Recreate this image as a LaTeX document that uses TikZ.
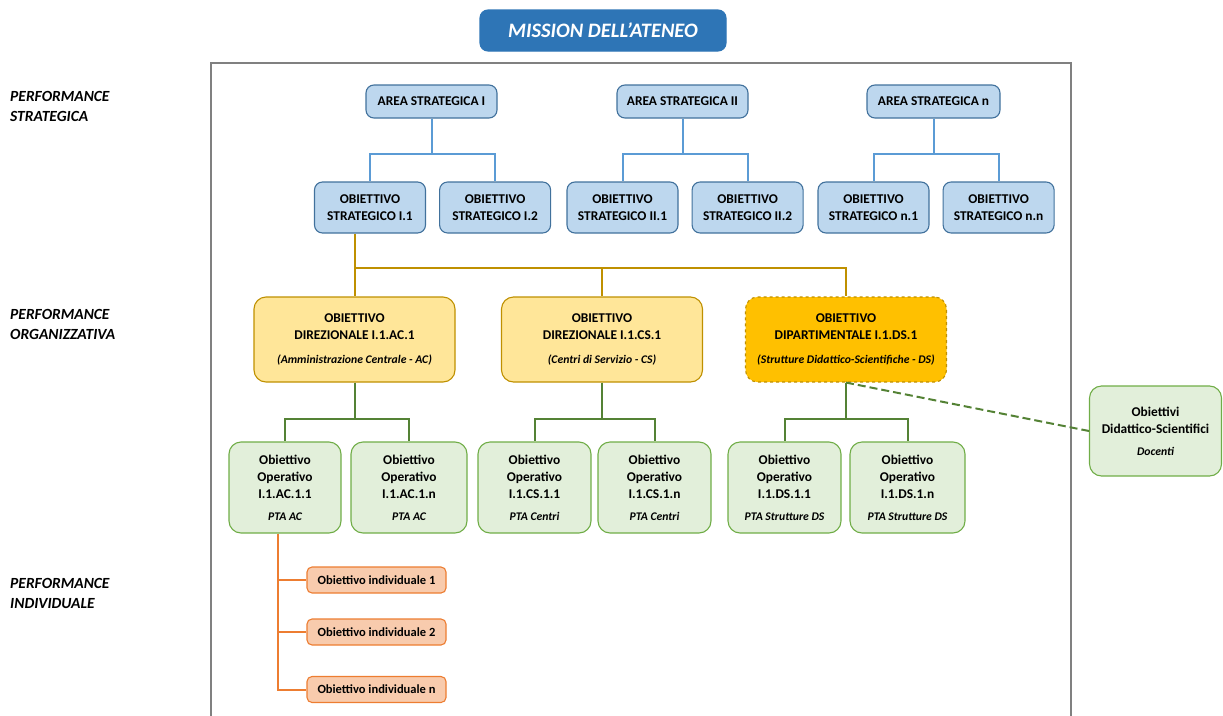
\documentclass[tikz,border=0pt]{standalone}
\usepackage{fontspec}
\setmainfont{Carlito}
\usetikzlibrary{positioning}

\definecolor{missionBlue}{HTML}{2E75B6}
\definecolor{stratFill}{HTML}{BDD7EE}
\definecolor{stratDraw}{HTML}{41719C}
\definecolor{stratLine}{HTML}{5B9BD5}
\definecolor{dirFill}{HTML}{FFE699}
\definecolor{dirDraw}{HTML}{BF9000}
\definecolor{dsFill}{HTML}{FFC000}
\definecolor{opFill}{HTML}{E2EFDA}
\definecolor{opDraw}{HTML}{70AD47}
\definecolor{opLine}{HTML}{548235}
\definecolor{indFill}{HTML}{F8CBAD}
\definecolor{indDraw}{HTML}{ED7D31}

\newcommand{\subtext}[1]{{\fontsize{11.7}{13}\selectfont\bfseries\itshape #1}}

\begin{document}
\begin{tikzpicture}[x=1pt, y=-1pt, node distance=13pt,
    box/.style={draw, rounded corners=8pt, align=center, inner sep=2pt, line width=1.1pt,
      font=\fontsize{13.4}{17}\selectfont\bfseries},
    mission/.style={box, fill=missionBlue, draw=missionBlue, text=white, minimum width=246pt, minimum height=41pt,
      font=\fontsize{20.5}{22}\selectfont\bfseries\itshape},
    area/.style={box, fill=stratFill, draw=stratDraw, minimum width=131pt, minimum height=33pt},
    strategic/.style={box, fill=stratFill, draw=stratDraw, minimum width=111pt, minimum height=51pt},
    directional/.style={box, fill=dirFill, draw=dirDraw, rounded corners=12pt, minimum width=201pt, minimum height=85pt},
    departmental/.style={directional, fill=dsFill, dashed},
    operative/.style={box, fill=opFill, draw=opDraw, rounded corners=12pt, minimum width=113pt, minimum height=91pt},
    individual/.style={box, fill=indFill, draw=indDraw, rounded corners=5pt, minimum width=139pt, minimum height=26pt,
      font=\fontsize{12.5}{14}\selectfont\bfseries},
    perf/.style={align=left, anchor=north west, inner sep=0pt, font=\fontsize{15.5}{20}\selectfont\bfseries\itshape},
    blueLink/.style={draw=stratLine, line width=2pt},
    goldLink/.style={draw=dirDraw, line width=2pt},
    greenLink/.style={draw=opLine, line width=2pt},
    orangeLink/.style={draw=indDraw, line width=2pt},
  ]
    \useasboundingbox (0,0) rectangle (1223,715);

    % frame
    \draw[gray, line width=1.8pt] (211,720) -- (211,63) -- (1071,63) -- (1071,720);

    \node[mission] (mission) at (603,30.5) {MISSION DELL'ATENEO};

    % performance labels
    \node[perf] (perf_strat) at (10,91) {PERFORMANCE\\STRATEGICA};
    \node[perf] (perf_org) at (10,309) {PERFORMANCE\\ORGANIZZATIVA};
    \node[perf] (perf_ind) at (10,578) {PERFORMANCE\\INDIVIDUALE};

    % aree strategiche
    \node[area] (area_1) at (431.5,101.5) {AREA STRATEGICA I};
    \node[area] (area_2) at (682.5,101.5) {AREA STRATEGICA II};
    \node[area, minimum width=133pt] (area_n) at (933.5,101.5) {AREA STRATEGICA n};

    % obiettivi strategici
    \node[strategic] (strat_1_1) at (370,207.5) {OBIETTIVO\\STRATEGICO I.1};
    \node[strategic, right=of strat_1_1] (strat_1_2) {OBIETTIVO\\STRATEGICO I.2};
    \node[strategic] (strat_2_1) at (622.5,207.5) {OBIETTIVO\\STRATEGICO II.1};
    \node[strategic, right=of strat_2_1] (strat_2_2) {OBIETTIVO\\STRATEGICO II.2};
    \node[strategic] (strat_n_1) at (873.5,207.5) {OBIETTIVO\\STRATEGICO n.1};
    \node[strategic, right=of strat_n_1] (strat_n_n) {OBIETTIVO\\STRATEGICO n.n};

    % obiettivi direzionali
    \node[directional] (dir_ac) at (354.5,339.5) {OBIETTIVO\\DIREZIONALE I.1.AC.1\\[7pt]\subtext{(Amministrazione Centrale - AC)}};
    \node[directional] (dir_cs) at (602,339.5) {OBIETTIVO\\DIREZIONALE I.1.CS.1\\[7pt]\subtext{(Centri di Servizio - CS)}};
    \node[departmental] (dir_ds) at (846,339.5) {OBIETTIVO\\DIPARTIMENTALE I.1.DS.1\\[7pt]\subtext{(Strutture Didattico-Scientifiche - DS)}};

    % obiettivi operativi
    \node[operative, minimum width=112pt] (op_ac_1) at (285,487.5) {Obiettivo\\Operativo\\I.1.AC.1.1\\[5pt]\subtext{PTA AC}};
    \node[operative, minimum width=116pt] (op_ac_n) at (409,487.5) {Obiettivo\\Operativo\\I.1.AC.1.n\\[5pt]\subtext{PTA AC}};
    \node[operative] (op_cs_1) at (534.5,487.5) {Obiettivo\\Operativo\\I.1.CS.1.1\\[5pt]\subtext{PTA Centri}};
    \node[operative] (op_cs_n) at (654.5,487.5) {Obiettivo\\Operativo\\I.1.CS.1.n\\[5pt]\subtext{PTA Centri}};
    \node[operative] (op_ds_1) at (784.5,487.5) {Obiettivo\\Operativo\\I.1.DS.1.1\\[5pt]\subtext{PTA Strutture DS}};
    \node[operative, minimum width=115pt] (op_ds_n) at (907.5,487.5) {Obiettivo\\Operativo\\I.1.DS.1.n\\[5pt]\subtext{PTA Strutture DS}};

    \node[operative, minimum width=132pt, minimum height=90pt] (docenti) at (1155.5,431) {Obiettivi\\Didattico-Scientifici\\[5pt]\subtext{Docenti}};

    % obiettivi individuali
    \node[individual] (ind_1) at (376.5,580) {Obiettivo individuale 1};
    \node[individual] (ind_2) at (376.5,632) {Obiettivo individuale 2};
    \node[individual] (ind_n) at (376.5,689.5) {Obiettivo individuale n};

    % connectors
    \draw[blueLink] (area_1.south) -- ++(0,35) -| (strat_1_1.north);
    \draw[blueLink] (area_1.south) -- ++(0,35) -| (strat_1_2.north);
    \draw[blueLink] (area_2.south) -- ++(0,35) -| (strat_2_1.north);
    \draw[blueLink] (area_2.south) -- ++(0,35) -| (strat_2_2.north);
    \draw[blueLink] (area_n.south) -- ++(0,35) -| (strat_n_1.north);
    \draw[blueLink] (area_n.south) -- ++(0,35) -| (strat_n_n.north);

    \draw[goldLink] (dir_ac.north |- strat_1_1.south) -- (dir_ac.north);
    \draw[goldLink] (dir_ac.north) ++(0,-28) -| (dir_cs.north);
    \draw[goldLink] (dir_ac.north) ++(0,-28) -| (dir_ds.north);

    \draw[greenLink] (dir_ac.south) -- ++(0,36) -| (op_ac_1.north);
    \draw[greenLink] (dir_ac.south) -- ++(0,36) -| (op_ac_n.north);
    \draw[greenLink] (dir_cs.south) -- ++(0,36) -| (op_cs_1.north);
    \draw[greenLink] (dir_cs.south) -- ++(0,36) -| (op_cs_n.north);
    \draw[greenLink] (dir_ds.south) -- ++(0,36) -| (op_ds_1.north);
    \draw[greenLink] (dir_ds.south) -- ++(0,36) -| (op_ds_n.north);
    \draw[greenLink, dash pattern=on 8pt off 4pt] (dir_ds.south) -- (docenti.west);

    \draw[orangeLink] ([xshift=-7pt]op_ac_1.south) |- (ind_1.west);
    \draw[orangeLink] ([xshift=-7pt]op_ac_1.south) |- (ind_2.west);
    \draw[orangeLink] ([xshift=-7pt]op_ac_1.south) |- (ind_n.west);
\end{tikzpicture}
\end{document}
